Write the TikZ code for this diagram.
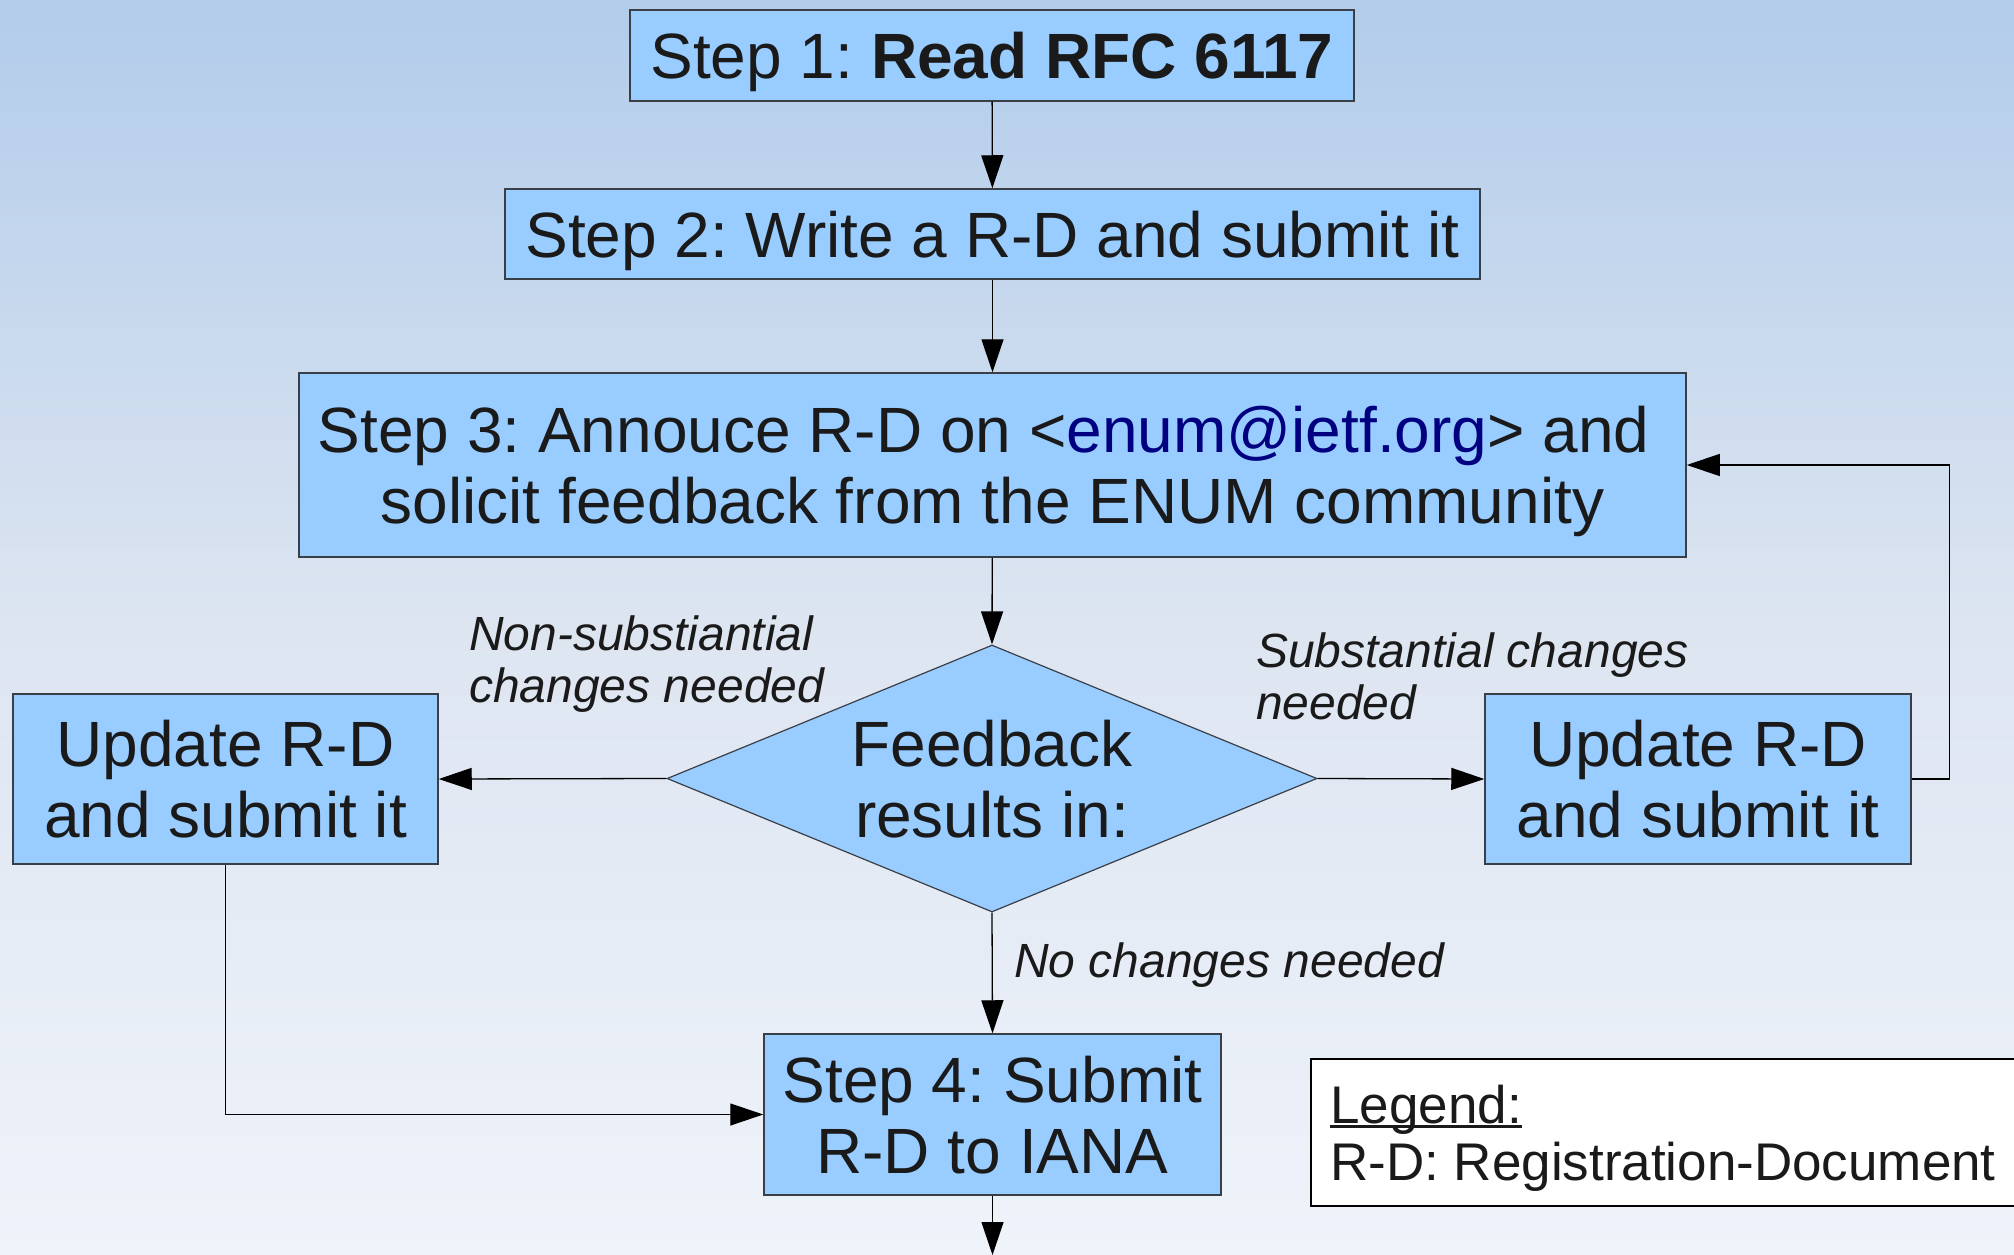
\documentclass[tikz,border=0pt]{standalone}
\usepackage{fontspec}
\setmainfont{Liberation Sans}
\usetikzlibrary{arrows.meta,shapes.geometric}
\definecolor{boxfill}{HTML}{99CCFF}
\definecolor{boxline}{HTML}{3A3F47}
\definecolor{txt}{HTML}{1A1A1A}
\definecolor{mail}{HTML}{000080}
\definecolor{bgtop}{HTML}{B2CCEA}
\definecolor{bgmid}{HTML}{DDE5F1}
\definecolor{bgbot}{HTML}{EFF3FA}
\newcommand\legendul[1]{\setbox0\hbox{#1}\rlap{\rule[-5pt]{\wd0}{3pt}}\box0}
\frenchspacing
\begin{document}
\begin{tikzpicture}[x=1pt,y=-1pt,
  stepbox/.style={draw=boxline, line width=1.5pt, fill=boxfill, text=txt, inner sep=0pt, align=center, text depth=0pt, font=\fontsize{64}{71}\selectfont},
  conn/.style={draw=black, line width=1.3pt, -{Triangle[length=33pt,width=22pt]}},
  lbl/.style={text=txt, inner sep=0pt, align=left, font=\fontsize{48}{52.5}\selectfont\itshape}]
\useasboundingbox (0,0) rectangle (2014,1255);
\shade[top color=bgtop, bottom color=bgbot, middle color=bgmid] (0,0) rectangle (2014,1255);
\node[stepbox, minimum width=724pt, minimum height=91pt] (s1) at (992,55.5) {Step 1: \textbf{Read RFC 6117}};
\node[stepbox, minimum width=975pt, minimum height=90pt] (s2) at (992.5,234) {Step 2: Write a R-D and submit it};
\node[stepbox, minimum width=1387pt, minimum height=184pt] (s3) at (992.5,465) {Step 3: Annouce R-D on <\textcolor{mail}{enum@ietf.org}> and\kern18pt\relax\\solicit feedback from the ENUM community};
\node[stepbox, diamond, line width=1.2pt, shape aspect=2.43, minimum width=650pt, minimum height=267pt] (fb) at (992,778.5) {Feedback\\results in:};
\node[stepbox, minimum width=425pt, minimum height=170pt] (ul) at (225.5,779) {Update R-D\\and submit it};
\node[stepbox, minimum width=426pt, minimum height=170pt] (ur) at (1698,779) {Update R-D\\and submit it};
\node[stepbox, minimum width=457pt, minimum height=161pt] (s4) at (992.5,1114.5) {Step 4: Submit\\R-D to IANA};
\node[draw=black, line width=1.5pt, fill=white, anchor=west, minimum width=720pt, minimum height=147pt, inner sep=0pt] (legend) at (1310,1132.5) {};
\node[text=txt, anchor=west, inner sep=0pt, align=left, text depth=0pt, font=\fontsize{53}{57}\selectfont] (legtext) at (1330,1132.5) {\legendul{Legend:}\\R-D: Registration-Document};
\node[lbl, anchor=west] (l1) at (469,664) {Non-substiantial\\changes needed};
\node[lbl, anchor=west] (l2) at (1256,676.5) {Substantial changes\\needed};
\node[lbl, anchor=base west] (l3) at (1014,977) {No changes needed};
\coordinate (end) at (992.5,1255);
\draw[conn] (s1) -- (s2);
\draw[conn] (s2) -- (s3);
\draw[conn] (s3) -- (fb.north);
\draw[conn] (fb.west) -- (ul.east);
\draw[conn] (fb.east) -- (ur.west);
\draw[conn] (fb.south) -- (s4.north);
\draw[conn] (ur.east) -- ++(38,0) |- (s3.east);
\draw[conn] (ul.south) |- (s4.west);
\draw[conn] (s4.south) -- (end);
\end{tikzpicture}
\end{document}
